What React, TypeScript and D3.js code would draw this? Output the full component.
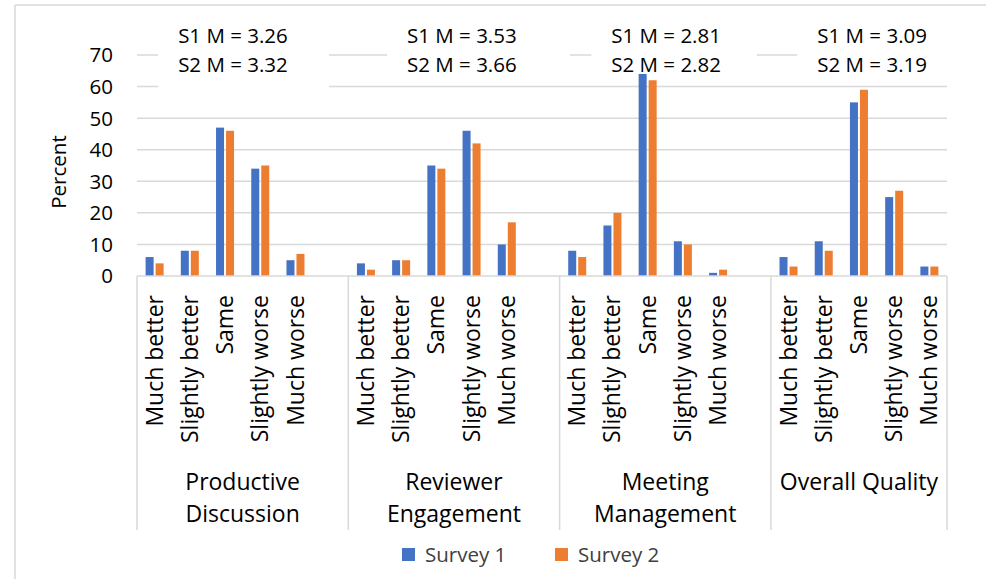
import * as d3 from 'd3';

const GROUPS: string[][] = [
  ['Productive', 'Discussion'],
  ['Reviewer', 'Engagement'],
  ['Meeting', 'Management'],
  ['Overall Quality'],
];
const CATEGORIES = ['Much better', 'Slightly better', 'Same', 'Slightly worse', 'Much worse'];
const SERIES = ['Survey 1', 'Survey 2'];
const SURVEY1 = [
  [6, 8, 47, 34, 5],
  [4, 5, 35, 46, 10],
  [8, 16, 64, 11, 1],
  [6, 11, 55, 25, 3],
];
const SURVEY2 = [
  [4, 8, 46, 35, 7],
  [2, 5, 34, 42, 17],
  [6, 20, 62, 10, 2],
  [3, 8, 59, 27, 3],
];
const MEAN_S1 = ['3.26', '3.53', '2.81', '3.09'];
const MEAN_S2 = ['3.32', '3.66', '2.82', '3.19'];
const Y_TICKS = [0, 10, 20, 30, 40, 50, 60, 70];

const COLORS = ['#4472C4', '#ED7D31'];
const GRID = '#d9d9d9';
const FONT = '"Open Sans", sans-serif';

// mean annotation boxes (slot units across, value units down)
const BOXES = [
  { left: 0.6, width: 4.85, bottom: 58.5 },
  { left: 7.1, width: 5.2, bottom: 65 },
  { left: 12.9, width: 4.7, bottom: 65 },
  { left: 18.75, width: 4.6, bottom: 65 },
];

export default function App() {
  const width = 986;
  const height = 579;
  const margin = { top: 55, right: 39, bottom: 303, left: 137 };

  // one slot per category, blank slot between groups
  const slots: string[] = [];
  GROUPS.forEach((_, g) => {
    CATEGORIES.forEach(c => slots.push(`${g}|${c}`));
    if (g < GROUPS.length - 1) slots.push(`gap${g}`);
  });

  const x = d3.scaleBand<string>().domain(slots).range([margin.left, width - margin.right]).padding(0);
  const xs = d3.scaleLinear().domain([0, slots.length]).range([margin.left, width - margin.right]);
  const inner = d3.scaleBand<string>().domain(SERIES).range([0, 18]).paddingInner(0.2);
  const y = d3.scaleLinear().domain([0, 70]).range([height - margin.bottom, margin.top]);
  const y0 = y(0);

  const groupStart = (g: number) => x(`${g}|${CATEGORIES[0]}`)!;
  const groupEnd = (g: number) => (g < GROUPS.length - 1 ? groupStart(g + 1) : width - margin.right);

  return (
    <svg width={width} height={height} style={{ position: 'absolute', left: 0, top: 0, background: '#fff' }}
      fontFamily={FONT}>
      <rect width={width} height={height} fill="#fff" />
      {/* chart border */}
      <line x1={15} x2={15} y1={5} y2={height} stroke={GRID} strokeWidth={1.5} />
      <line x1={15} x2={width} y1={5} y2={5} stroke={GRID} strokeWidth={1.5} />

      {/* gridlines */}
      {Y_TICKS.filter(t => t > 0).map(t => (
        <line key={t} x1={margin.left} x2={width - margin.right} y1={y(t)} y2={y(t)} stroke={GRID} strokeWidth={1.5} />
      ))}

      {/* y tick labels */}
      {Y_TICKS.map(t => (
        <text key={t} x={113} y={y(t)} dy="0.36em" textAnchor="end" fontSize={20.5} fill="#000">{t}</text>
      ))}
      <text transform={`translate(66,172) rotate(-90)`} textAnchor="middle" fontSize={20.5} fill="#000">Percent</text>

      {/* mean annotation backgrounds */}
      {BOXES.map((b, g) => (
        <rect key={`b${g}`} x={xs(b.left)} y={14} width={xs(b.width) - xs(0)} height={y(b.bottom) - 14} fill="#fff" />
      ))}

      {/* bars */}
      {GROUPS.map((_, g) =>
        CATEGORIES.map((c, ci) => {
          const cx = x(`${g}|${c}`)! + x.bandwidth() / 2 - 9;
          return [SURVEY1[g][ci], SURVEY2[g][ci]].map((v, si) => (
            <rect key={`${g}-${ci}-${si}`} x={cx + inner(SERIES[si])!} y={y(v)} width={inner.bandwidth()}
              height={y0 - y(v)} fill={COLORS[si]} />
          ));
        })
      )}

      {/* axis line and group separators */}
      <line x1={margin.left} x2={width - margin.right} y1={y0} y2={y0} stroke={GRID} strokeWidth={1.5} />
      {GROUPS.map((_, g) => (
        <line key={`s${g}`} x1={groupStart(g)} x2={groupStart(g)} y1={y0} y2={530} stroke={GRID} strokeWidth={1.5} />
      ))}
      <line x1={width - margin.right} x2={width - margin.right} y1={y0} y2={530} stroke={GRID} strokeWidth={1.5} />

      {/* category labels */}
      {GROUPS.map((_, g) =>
        CATEGORIES.map(c => {
          const cx = x(`${g}|${c}`)! + x.bandwidth() / 2;
          return (
            <text key={`${g}-${c}`} transform={`translate(${cx},${y0 + 19}) rotate(-90)`} dy="0.35em"
              textAnchor="end" fontSize={23} fill="#000">{c}</text>
          );
        })
      )}

      {/* group labels */}
      {GROUPS.map((lines, g) => (
        <text key={`g${g}`} x={(groupStart(g) + groupEnd(g)) / 2} y={490} textAnchor="middle" fontSize={23} fill="#000">
          {lines.map((l, i) => (
            <tspan key={i} x={(groupStart(g) + groupEnd(g)) / 2} dy={i === 0 ? 0 : 31.5}>{l}</tspan>
          ))}
        </text>
      ))}

      {/* mean annotations */}
      {BOXES.map((b, g) => (
        <g key={`m${g}`}>
          <text x={xs(b.left) + 20} y={y(70) - 12} fontSize={20.5} fill="#000">{`S1 M = ${MEAN_S1[g]}`}</text>
          <text x={xs(b.left) + 20} y={y(70) + 17} fontSize={20.5} fill="#000">{`S2 M = ${MEAN_S2[g]}`}</text>
        </g>
      ))}

      {/* legend */}
      {SERIES.map((s, i) => (
        <g key={s} transform={`translate(${402 + i * 153},548)`}>
          <rect width={13} height={13} fill={COLORS[i]} />
          <text x={23} y={6.5} dy="0.36em" fontSize={20.5} fill="#404040">{s}</text>
        </g>
      ))}
    </svg>
  );
}
